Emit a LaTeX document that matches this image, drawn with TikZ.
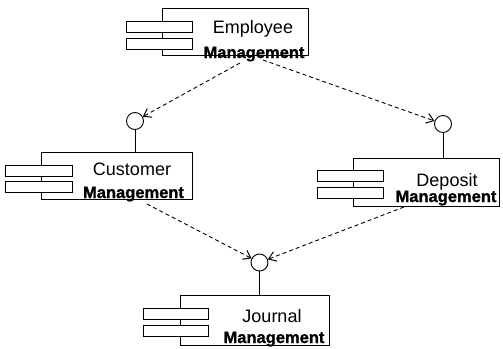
\documentclass[tikz,border=0pt]{standalone}
\usepackage{fontspec}
\setmainfont{Liberation Sans}
\newfontfamily\mgmtfont[FakeBold=1.2]{Liberation Sans Bold}
\usetikzlibrary{arrows.meta}
\begin{document}
\begin{tikzpicture}[x=1pt,y=-1pt,
  comp/.style={draw,line width=0.9pt,inner sep=0},
  tab/.style={draw,fill=white,line width=0.9pt,inner sep=0,minimum height=11pt},
  iface/.style={draw,circle,fill=white,minimum size=17pt,inner sep=0,line width=0.9pt},
  lbl/.style={inner sep=0,anchor=base,font=\fontsize{18}{18}\selectfont},
  blbl/.style={inner sep=0,anchor=base,font=\fontsize{16.5}{17}\mgmtfont},
  dep/.style={draw,dash pattern=on 4pt off 3pt,line width=0.9pt,-{Straight Barb[length=7pt,width=10pt,line width=1pt]}},
  stem/.style={draw,line width=0.9pt}
]
\useasboundingbox (0,0) rectangle (503,348);
% Employee
\node[comp,minimum width=146pt,minimum height=47pt] (emp) at (235,31.5) {};
\node[tab,minimum width=66pt] (empt1) at (159,26.5) {};
\node[tab,minimum width=66pt] (empt2) at (159,44) {};
\node[lbl] (empl1) at (253,33) {Employee};
\node[blbl] (empl2) at (254,58) {Management};
% Customer
\node[comp,minimum width=151pt,minimum height=47pt] (cus) at (116.5,175.5) {};
\node[tab,minimum width=67pt] (cust1) at (38.5,170.5) {};
\node[tab,minimum width=67pt] (cust2) at (38.5,187) {};
\node[lbl] (cusl1) at (132,175) {Customer};
\node[blbl] (cusl2) at (133.5,198) {Management};
\node[iface] (cusi) at (135,121) {};
\draw[stem] (cusi.south) -- (cusi.south |- cus.north);
% Deposit
\node[comp,minimum width=146pt,minimum height=48pt] (dep) at (426,182) {};
\node[tab,minimum width=66pt] (dept1) at (350,176) {};
\node[tab,minimum width=66pt] (dept2) at (350,192.5) {};
\node[lbl] (depl1) at (447,186) {Deposit};
\node[blbl] (depl2) at (446,202) {Management};
\node[iface] (depi) at (443,124) {};
\draw[stem] (depi.south) -- (depi.south |- dep.north);
% Journal
\node[comp,minimum width=149pt,minimum height=50pt] (jou) at (254.5,320) {};
\node[tab,minimum width=65pt] (jout1) at (175.5,313.5) {};
\node[tab,minimum width=65pt] (jout2) at (175.5,331) {};
\node[lbl] (joul1) at (272,322) {Journal};
\node[blbl] (joul2) at (274,343) {Management};
\node[iface] (joui) at (259.5,262.5) {};
\draw[stem] (joui.south) -- (joui.south |- jou.north);
% dependencies
\coordinate (e1) at (240,63);
\coordinate (e2) at (263,60);
\coordinate (c1) at (147,204);
\coordinate (d1) at (404,207);
\draw[dep] (e1) -- (cusi);
\draw[dep] (e2) -- (depi);
\draw[dep] (c1) -- (joui);
\draw[dep] (d1) -- (joui);
\end{tikzpicture}
\end{document}
